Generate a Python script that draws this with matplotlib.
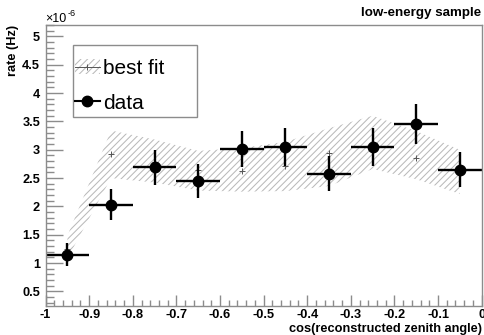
import numpy as np
import matplotlib
matplotlib.use("Agg")
import matplotlib.pyplot as plt
from matplotlib.patches import Patch, Rectangle
from matplotlib.lines import Line2D
from matplotlib.ticker import MultipleLocator

plt.rcParams['font.family'] = ['Liberation Sans', 'DejaVu Sans']
plt.rcParams['hatch.linewidth'] = 0.75

# bin centres, cos(reconstructed zenith angle)
bin_centers = [-0.95, -0.85, -0.75, -0.65, -0.55, -0.45, -0.35, -0.25, -0.15, -0.05]
bin_half_width = 0.05

# measured rate (x1e-6 Hz) and errors
data_rate = [1.15, 2.03, 2.69, 2.44, 3.01, 3.05, 2.58, 3.05, 3.46, 2.65]
data_err = [0.20, 0.27, 0.31, 0.30, 0.32, 0.33, 0.31, 0.33, 0.35, 0.31]

# best fit and its band
fit_rate = [1.25, 2.93, 2.78, 2.65, 2.62, 2.71, 2.94, 3.12, 2.86, 2.60]
band_upper = [1.48, 3.34, 3.18, 2.98, 3.03, 3.14, 3.38, 3.60, 3.33, 3.00]
band_lower = [1.08, 2.50, 2.42, 2.28, 2.26, 2.27, 2.36, 2.66, 2.48, 2.22]

frame_col = '#8c8c8c'
hatch_col = '#bababa'

fig = plt.figure(figsize=(4.85, 3.35), dpi=100)
ax = fig.add_axes([0.094, 0.088, 0.899, 0.837])

ax.fill_between(bin_centers, band_lower, band_upper, facecolor='none',
                edgecolor=hatch_col, hatch='/////', linewidth=0)
ax.plot(bin_centers, fit_rate, linestyle='none', marker='+', markersize=5,
        markeredgewidth=0.7, color='#555555')
ax.errorbar(bin_centers, data_rate, yerr=data_err, xerr=bin_half_width,
            fmt='o', color='black', markersize=7.5, elinewidth=1.7, capsize=0)

ax.set_xlim(-1, 0)
ax.set_ylim(0.25, 5.2)
ax.xaxis.set_major_locator(MultipleLocator(0.1))
ax.xaxis.set_minor_locator(MultipleLocator(0.02))
ax.yaxis.set_major_locator(MultipleLocator(0.5))
ax.yaxis.set_minor_locator(MultipleLocator(0.1))
ax.set_xticks([-1, -0.9, -0.8, -0.7, -0.6, -0.5, -0.4, -0.3, -0.2, -0.1, 0])
ax.set_xticklabels(['-1', '-0.9', '-0.8', '-0.7', '-0.6', '-0.5', '-0.4', '-0.3', '-0.2', '-0.1', '0'])
ax.set_yticks([0.5, 1, 1.5, 2, 2.5, 3, 3.5, 4, 4.5, 5])
ax.set_yticklabels(['0.5', '1', '1.5', '2', '2.5', '3', '3.5', '4', '4.5', '5'])

ax.tick_params(axis='x', which='major', direction='in', length=8, width=1, color=frame_col, pad=2.5)
ax.tick_params(axis='x', which='minor', direction='in', length=4, width=1, color=frame_col)
ax.tick_params(axis='y', which='major', direction='in', length=12, width=1, color=frame_col, pad=4)
ax.tick_params(axis='y', which='minor', direction='in', length=6, width=1, color=frame_col)
for lab in ax.get_xticklabels() + ax.get_yticklabels():
    lab.set_fontsize(9.2)
    lab.set_fontweight('bold')
for sp in ax.spines.values():
    sp.set_color(frame_col)
    sp.set_linewidth(1)

ax.set_xlabel('cos(reconstructed zenith angle)', fontsize=9.2, fontweight='bold')
ax.xaxis.set_label_coords(1.0, -0.064)
ax.xaxis.label.set_horizontalalignment('right')
ax.set_ylabel('rate (Hz)', fontsize=9.2, fontweight='bold')
ax.yaxis.set_label_coords(-0.061, 1.0)
ax.yaxis.label.set_horizontalalignment('right')

fig.text(0.094, 0.925, '×10', fontsize=9, ha='left', va='bottom')
fig.text(0.139, 0.946, '-6', fontsize=6.5, ha='left', va='bottom')
fig.text(0.992, 0.96, 'low-energy sample', fontsize=9.6, fontweight='bold',
         ha='right', va='center')

# legend box drawn by hand, legend itself without frame
ax.add_patch(Rectangle((0.062, 0.671), 0.286, 0.258, transform=ax.transAxes,
                       facecolor='white', edgecolor=frame_col, linewidth=1, zorder=4))
fit_handle = (Patch(facecolor='none', edgecolor=hatch_col, hatch='/////', linewidth=0),
              Line2D([], [], marker='+', color='#555555', markersize=5,
                     markeredgewidth=0.7, linewidth=0.7))
data_handle = Line2D([], [], marker='o', color='black', markersize=7.5, linewidth=1.5)
leg = ax.legend([fit_handle, data_handle], ['best fit', 'data'],
                loc='upper left', bbox_to_anchor=(0.067, 0.879), fontsize=15,
                frameon=False, handlelength=1.2, handletextpad=0.15,
                labelspacing=0.75, borderpad=0, borderaxespad=0)
leg.set_zorder(5)

fig.savefig('out.png', dpi=100)
